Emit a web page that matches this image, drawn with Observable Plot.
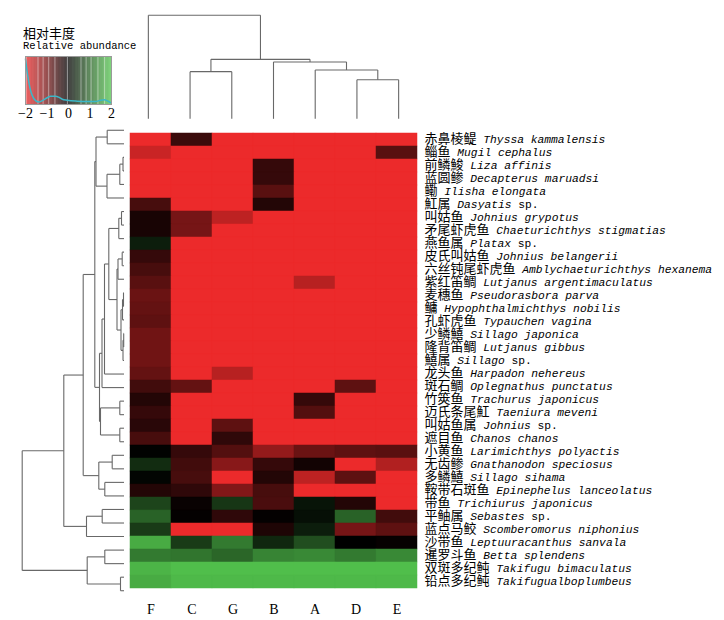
<!DOCTYPE html>
<html><head><meta charset="utf-8">
<script src="https://cdn.jsdelivr.net/npm/d3@7"></script>
<script src="https://cdn.jsdelivr.net/npm/@observablehq/plot@0.6"></script>
<style>
body{margin:0;background:#fff;}
#chart{position:relative;width:724px;height:620px;overflow:hidden;background:#fff;}
#chart svg{position:absolute;left:0;top:0;}
.t{position:absolute;white-space:nowrap;color:#000;}
</style></head><body><div id="chart"></div>
<script>
// ---------- data ----------
const columns = ["F","C","G","B","A","D","E"];
const rowsCN = ["赤鼻棱鳀","鲻鱼","前鳞鮻","蓝圆鲹","鳓","魟属","叫姑鱼","矛尾虾虎鱼","燕鱼属","皮氏叫姑鱼","六丝钝尾虾虎鱼","紫红笛鲷","麦穗鱼","鳙","孔虾虎鱼","少鳞鱚","隆背笛鲷","鱚属","龙头鱼","斑石鲷","竹筴鱼","迈氏条尾魟","叫姑鱼属","遮目鱼","小黄鱼","无齿鲹","多鳞鱚","鞍带石斑鱼","带鱼","平鲉属","蓝点马鲛","沙带鱼","暹罗斗鱼","双斑多纪鲀","铅点多纪鲀"];
const rowsLatin = ["Thyssa kammalensis","Mugil cephalus","Liza affinis","Decapterus maruadsi","Ilisha elongata","Dasyatis sp.","Johnius grypotus","Chaeturichthys stigmatias","Platax sp.","Johnius belangerii","Amblychaeturichthys hexanema","Lutjanus argentimaculatus","Pseudorasbora parva","Hypophthalmichthys nobilis","Typauchen vagina","Sillago japonica","Lutjanus gibbus","Sillago sp.","Harpadon nehereus","Oplegnathus punctatus","Trachurus japonicus","Taeniura meveni","Johnius sp.","Chanos chanos","Larimichthys polyactis","Gnathanodon speciosus","Sillago sihama","Epinephelus lanceolatus","Trichiurus japonicus","Sebastes sp.","Scomberomorus niphonius","Leptuuracanthus sanvala","Betta splendens","Takifugu bimaculatus","Takifugualboplumbeus"];

const colF = [-2,-1.7,-2,-2,-2,-0.6,-0.2,-0.2,0.3,-0.45,-0.6,-0.75,-0.9,-0.85,-0.8,-0.95,-0.95,-0.95,-0.85,-0.55,-0.3,-0.45,-0.35,-0.6,0.02,0.45,0.05,-0.3,0.7,1.0,0.6,1.75,1.25,1.85,1.75];
const colC = [-0.5,-2,-2,-2,-2,-2,-1.0,-1.0,-2,-2,-2,-2,-2,-2,-2,-2,-2,-2,-2,-0.85,-2,-2,-2,-2,-0.45,-0.55,-0.6,-0.4,-0.08,-0.03,-2,0.6,1.2,1.95,1.9];
const colG = [-2,-2,-2,-2,-2,-2,-1.6,-2,-2,-2,-2,-2,-2,-2,-2,-2,-2,-2,-1.55,-2,-2,-2,-0.8,-0.4,-0.7,-1.15,-2,-1.1,0.55,-0.4,-2,1.25,1.05,1.95,1.9];
const colB = [-2,-2,-0.45,-0.45,-0.75,-0.3,-2,-2,-2,-2,-2,-2,-2,-2,-2,-2,-2,-2,-2,-2,-2,-2,-2,-2,-1.25,-0.45,-0.3,-0.6,-0.63,-0.03,-0.25,0.4,1.35,1.95,1.9];
const colA = [-2,-2,-2,-2,-2,-2,-2,-2,-2,-2,-2,-1.55,-2,-2,-2,-2,-2,-2,-2,-2,-0.45,-0.7,-2,-2,-0.9,-0.15,-1.6,-2,0.2,0.15,0.3,0.8,1.4,1.95,1.9];
const colD = [-2,-2,-2,-2,-2,-2,-2,-2,-2,-2,-2,-2,-2,-2,-2,-2,-2,-2,-2,-0.8,-2,-2,-2,-2,-0.8,-2,-0.8,-2,-0.3,1.0,-1.0,0.0,1.25,1.95,1.9];
const colE = [-2,-0.75,-2,-2,-2,-2,-2,-2,-2,-2,-2,-2,-2,-2,-2,-2,-2,-2,-2,-2,-2,-2,-2,-2,-0.75,-1.5,-2,-2,-2,-0.55,-0.8,-0.05,1.4,1.95,1.9];

// dendrogram merges (R hclust style: negative = leaf in display order, positive = earlier merge), with heights
const rowMerges = [
  [-3,-4,0.10],[-16,-17,0.03],[-13,-14,0.05],[2,-18,0.10],[3,-15,0.15],
  [-10,-11,0.18],[-7,-8,0.25],[5,4,0.30],[-34,-35,0.35],[1,-5,0.42],
  [-21,-22,0.42],[-23,-24,0.42],[7,-9,0.52],[6,-12,0.60],[14,8,0.70],
  [-25,-26,1.18],[13,15,1.52],[-1,-2,1.68],[10,-6,1.70],[-27,-28,1.92],
  [-32,-33,1.92],[17,-19,1.95],[-29,-30,2.18],[22,-20,2.20],[11,12,2.35],
  [24,25,2.45],[16,20,2.52],[18,19,2.80],[28,26,2.92],[21,9,3.68],
  [23,-31,3.75],[29,27,4.08],[32,31,6.02],[33,30,10.18]
];
const colMerges = [[-6,-7,3.90],[-2,-3,4.70],[-5,1,4.87],[-4,3,5.67],[2,4,5.93],[-1,5,10.33]];

// colour key: density trace and key lines
const keyDensityX = [-2,-1.92,-1.80,-1.69,-1.53,-1.38,-1.22,-0.99,-0.84,-0.60,-0.45,-0.29,-0.06,0.40,0.87,1.26,1.49,1.67,1.83,1.95];
const keyDensityY = [0.95,0.67,0.36,0.19,0.08,0.05,0.08,0.14,0.17,0.17,0.15,0.11,0.09,0.07,0.06,0.06,0.09,0.10,0.07,0.04];
const keyLines = [-1.97,-1.42,-1.18,-0.92,-0.63,-0.05,0.58,0.82,1.05,1.37,1.68];
const keyTicks = [-2,-1,0,1,2];

(function(){
const W = 724, H = 620;
const colData = {F:colF, C:colC, G:colG, B:colB, A:colA, D:colD, E:colE};
const cells = rowsCN.flatMap((r,i)=>columns.map(c=>({row:r, col:c, value:colData[c][i]})));
const colorOpts = {type:"linear", domain:[-2,0,2], range:["#ec2a2b","#000000","#52c34d"], interpolate:"rgb", clamp:true};

function dendroSegs(merges){
  const nodes = [], segs = [];
  const get = k => k < 0 ? {pos:-k-0.5, h:0} : nodes[k-1];
  merges.forEach(([a,b,h])=>{
    const A = get(a), B = get(b);
    segs.push({p1:A.pos,h1:A.h,p2:A.pos,h2:h});
    segs.push({p1:A.pos,h1:h,p2:B.pos,h2:h});
    segs.push({p1:B.pos,h1:h,p2:B.pos,h2:B.h});
    nodes.push({pos:(A.pos+B.pos)/2, h});
  });
  return segs;
}
const chart = document.getElementById("chart");
const dStroke = "#686868";

// main heatmap
const mainPlot = Plot.plot({
  width:W, height:H, marginLeft:127, marginRight:305, marginTop:123, marginBottom:23,
  style:{background:"transparent"},
  x:{domain:columns, padding:0, tickSize:0, tickPadding:7, label:null},
  y:{domain:rowsCN, padding:0, axis:"right", tickSize:0, tickPadding:5, label:null},
  color:colorOpts,
  marks:[
    Plot.cell(cells, {x:"col", y:"row", fill:"value", stroke:"value", strokeWidth:0.5})
  ]
});
chart.appendChild(mainPlot);
const cnIndex = new Map(rowsCN.map((c,i)=>[c,i]));
const colSet = new Set(columns);
d3.select(mainPlot).selectAll("text").each(function(){
  const t = this.textContent;
  const s = d3.select(this);
  if (cnIndex.has(t)) {
    const lat = rowsLatin[cnIndex.get(t)];
    s.text(null).attr("fill","#000");
    s.append("tspan").attr("font-family","'Noto Sans CJK SC'").attr("font-size",13).text(t);
    const isSp = lat.endsWith(" sp.");
    const it = isSp ? lat.slice(0,-4) : lat;
    s.append("tspan").attr("font-family","'Liberation Mono'").attr("font-size",11.3).attr("font-style","italic").text(" " + it);
    if (isSp) s.append("tspan").attr("font-family","'Liberation Mono'").attr("font-size",11.3).text(" sp.");
  } else if (colSet.has(t)) {
    s.attr("font-family","'Liberation Serif'").attr("font-size",14).attr("fill","#000");
  }
});

// left dendrogram
const rowRootH = d3.max(rowMerges, d=>d[2]);
const leftPlot = Plot.plot({
  width:W, height:H, marginLeft:21.7, marginRight:W-123.5, marginTop:123, marginBottom:23,
  style:{background:"transparent"},
  x:{domain:[0,rowRootH], reverse:true, axis:null},
  y:{domain:[0,rowsCN.length], reverse:true, axis:null},
  marks:[Plot.link(dendroSegs(rowMerges), {x1:"h1", y1:"p1", x2:"h2", y2:"p2", stroke:dStroke, strokeWidth:1.1})]
});
chart.appendChild(leftPlot);

// top dendrogram
const colRootH = d3.max(colMerges, d=>d[2]);
const topPlot = Plot.plot({
  width:W, height:H, marginLeft:127, marginRight:305, marginTop:14.7, marginBottom:H-118.3,
  style:{background:"transparent"},
  x:{domain:[0,columns.length], axis:null},
  y:{domain:[0,colRootH], axis:null},
  marks:[Plot.link(dendroSegs(colMerges), {x1:"p1", y1:"h1", x2:"p2", y2:"h2", stroke:dStroke, strokeWidth:1.1})]
});
chart.appendChild(topPlot);

// colour key
const ramp = d3.range(-2, 2, 0.02).map(v=>({v}));
const density = keyDensityX.map((x,i)=>({x, d:keyDensityY[i]}));
const keyPlot = Plot.plot({
  width:180, height:125, marginLeft:25, marginRight:69, marginTop:56, marginBottom:21,
  style:{background:"transparent", fontFamily:"'Liberation Serif'", fontSize:"14px", color:"#000"},
  x:{domain:[-2,2], ticks:keyTicks, tickFormat:d3.format("d"), tickSize:0, tickPadding:4, label:null},
  y:{domain:[0,1], axis:null},
  color:colorOpts,
  marks:[
    Plot.rect(ramp, {x1:"v", x2:d=>d.v+0.021, y1:0, y2:1, fill:d=>d.v+0.01}),
    Plot.ruleX(keyLines, {stroke:"#ffffff", strokeOpacity:0.45, strokeWidth:1}),
    Plot.line(density, {x:"x", y:"d", stroke:"#3ab7c8", strokeWidth:1.5, curve:"monotone-x"}),
    Plot.frame({stroke:"#9a9a9a"})
  ]
});
chart.appendChild(keyPlot);
d3.select(keyPlot).selectAll("text").attr("font-size",14).attr("font-family","'Liberation Serif'").attr("fill","#000");

const t1 = document.createElement("div");
t1.className = "t"; t1.textContent = "相对丰度";
Object.assign(t1.style, {left:"23px", top:"25px", font:"13px/16px 'Noto Sans CJK SC'"});
chart.appendChild(t1);
const t2 = document.createElement("div");
t2.className = "t"; t2.textContent = "Relative abundance";
Object.assign(t2.style, {left:"23px", top:"40px", font:"10.5px/13px 'Liberation Mono'"});
chart.appendChild(t2);
})();
</script></body></html>
